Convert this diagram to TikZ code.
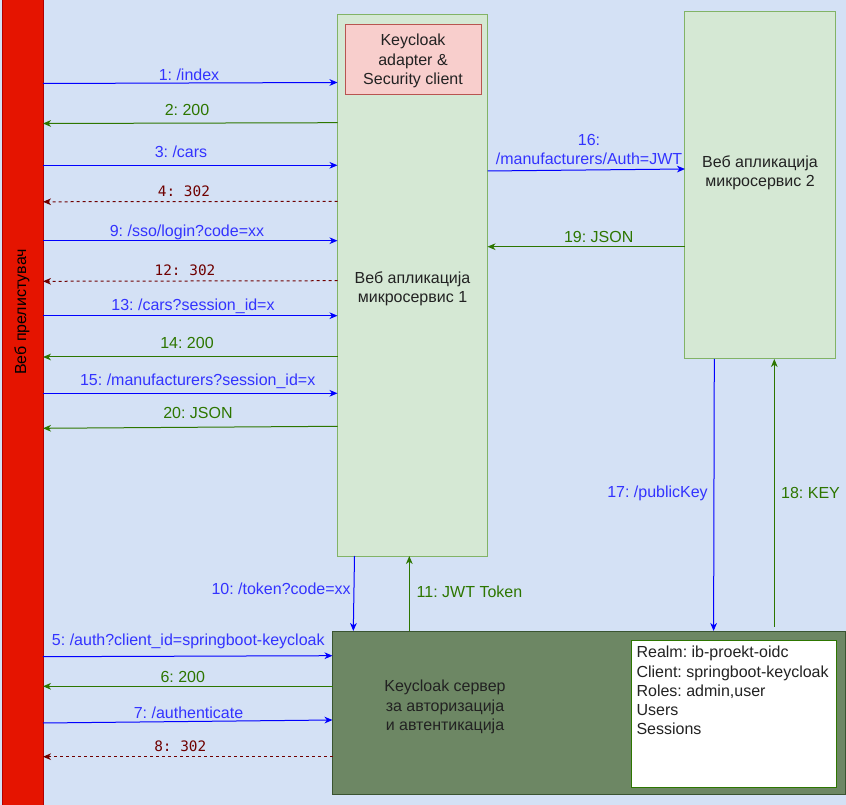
\documentclass[tikz,border=0pt]{standalone}
\usepackage{fontspec}
\setmainfont{Liberation Sans}
\newfontfamily\monofont{DejaVu Sans Mono}
\usetikzlibrary{arrows.meta}
\frenchspacing
\definecolor{bgblue}{HTML}{D4E1F5}
\definecolor{barred}{HTML}{E51400}
\definecolor{barstroke}{HTML}{B20000}
\definecolor{msfill}{HTML}{D5E8D4}
\definecolor{msstroke}{HTML}{82B366}
\definecolor{pinkfill}{HTML}{F8CECC}
\definecolor{pinkstroke}{HTML}{B85450}
\definecolor{kcfill}{HTML}{6D8764}
\definecolor{kcstroke}{HTML}{3A5431}
\definecolor{okgreen}{HTML}{2D7600}
\definecolor{reqblue}{HTML}{0000FF}
\definecolor{reqtext}{HTML}{3333FF}
\definecolor{redir}{HTML}{6F0000}
\definecolor{txt}{HTML}{222222}
\tikzset{
  box/.style={draw, line width=0.75pt, inner sep=0pt, outer sep=0pt},
  tip/.style={-{Stealth[length=6pt,width=5pt,inset=1.8pt]}},
  req/.style={draw=reqblue, line width=0.75pt, tip},
  okarr/.style={draw=okgreen, line width=0.75pt, tip},
  redirarr/.style={draw=redir, line width=0.75pt, dash pattern=on 2.25pt off 2.25pt, tip},
  reqlbl/.style={text=reqtext, inner sep=0pt},
  oklbl/.style={text=okgreen, inner sep=0pt},
  redirlbl/.style={text=redir, inner sep=0pt, font=\monofont\fontsize{10.8}{13}\selectfont},
  boxtext/.style={text=txt, align=center, inner sep=0pt},
}
\begin{document}
\frenchspacing
\begin{tikzpicture}[x=0.75pt,y=-0.75pt,font=\fontsize{12}{14.4}\selectfont]
\useasboundingbox (0,0) rectangle (846,805);
\fill[bgblue] (0,0) rectangle (846,805);

% boxes
\node[box, fill=barred, draw=barstroke, minimum width=30.75pt, minimum height=604.5pt] (bar) at (22.5,402.5) {};
\node[rotate=90, text=black, inner sep=0pt] (barlbl) at (22,312) {Веб прелистувач};

\node[box, fill=msfill, draw=msstroke, minimum width=112.5pt, minimum height=405.75pt] (ms1) at (412.5,285.5) {};
\node[box, fill=pinkfill, draw=pinkstroke, minimum width=102pt, minimum height=52.5pt] (pink) at (413,60) {};
\node[boxtext] (pinklbl) at (413,61) {Keycloak\\adapter \&\\Security client};
\node[boxtext] (ms1lbl) at (412.5,289) {Веб апликација\\микросервис 1};

\node[box, fill=msfill, draw=msstroke, minimum width=112.9pt, minimum height=260.25pt] (ms2) at (760.25,185.5) {};
\node[boxtext] (ms2lbl) at (760,172.5) {Веб апликација\\микросервис 2};

\node[box, fill=kcfill, draw=kcstroke, minimum width=384.75pt, minimum height=122.25pt] (kc) at (589,712.5) {};
\node[boxtext] (kclbl) at (445,707) {Keycloak сервер\\за авторизација\\и автентикација};
\node[box, fill=white, draw=okgreen, minimum width=154.1pt, minimum height=110.6pt] (info) at (734.25,714.25) {};
\node[text=txt, align=left, anchor=north west, inner sep=0pt] (infolbl) at (636.3,646) {Realm: ib-proekt-oidc\\Client: springboot-keycloak\\Roles: admin,user\\Users\\Sessions};

% browser <-> microservice 1
\draw[req] (bar.east |- 0,83.5) -- (ms1.west |- 0,82.5);
\node[reqlbl] (l1) at (189,75) {1: /index};
\draw[okarr] (ms1.west |- 0,122.7) -- (bar.east |- 0,123.5);
\node[oklbl] (l2) at (187,110) {2: 200};
\draw[req] (bar.east |- 0,165.3) -- (ms1.west |- 0,165.3);
\node[reqlbl] (l3) at (181,151.5) {3: /cars};
\draw[redirarr] (ms1.west |- 0,201.3) -- (bar.east |- 0,201.8);
\node[redirlbl] (l4) at (184,191.5) {4: 302};
\draw[req] (bar.east |- 0,240.7) -- (ms1.west |- 0,240.7);
\node[reqlbl] (l9) at (187,232) {9: /sso/login?code=xx};
\draw[redirarr] (ms1.west |- 0,280.7) -- (bar.east |- 0,281.3);
\node[redirlbl] (l12) at (185,270.5) {12: 302};
\draw[req] (bar.east |- 0,315.7) -- (ms1.west |- 0,315.7);
\node[reqlbl] (l13) at (193,306) {13: /cars?session\_id=x};
\draw[okarr] (ms1.west |- 0,357) -- (bar.east |- 0,357);
\node[oklbl] (l14) at (187,342.7) {14: 200};
\draw[req] (bar.east |- 0,393.3) -- (ms1.west |- 0,393.3);
\node[reqlbl] (l15) at (197.7,381) {15: /manufacturers?session\_id=x};
\draw[okarr] (ms1.west |- 0,426.3) -- (bar.east |- 0,428.3);
\node[oklbl] (l20) at (198,412.7) {20: JSON};

% microservice 1 <-> microservice 2
\draw[req] (ms1.east |- 0,171) -- (ms2.west |- 0,169);
\node[reqlbl, align=center] (l16) at (589,149.5) {16:\\/manufacturers/Auth=JWT};
\draw[okarr] (ms2.west |- 0,246.7) -- (ms1.east |- 0,246.7);
\node[oklbl] (l19) at (598.7,236.5) {19: JSON};

% microservice 1 <-> keycloak
\draw[req] (ms1.south -| 354.5,0) -- (kc.north -| 353.3,0);
\node[reqlbl, anchor=east] (l10) at (351,589) {10: /token?code=xx};
\draw[okarr] (kc.north -| 409.3,0) -- (ms1.south -| 409.3,0);
\node[oklbl] (l11) at (469.5,592) {11: JWT Token};

% microservice 2 <-> keycloak
\draw[req] (ms2.south -| 714.3,0) -- (kc.north -| 713.6,0);
\node[reqlbl] (l17) at (657.5,493.3) {17: /publicKey};
\coordinate (k18) at (774.3,626.5);
\draw[okarr] (k18) -- (ms2.south -| k18);
\node[oklbl] (l18) at (810.5,493.3) {18: KEY};

% browser <-> keycloak
\draw[req] (bar.east |- 0,656.7) -- (kc.west |- 0,655.7);
\node[reqlbl] (l5) at (188.3,641) {5: /auth?client\_id=springboot-keycloak};
\draw[okarr] (kc.west |- 0,686.3) -- (bar.east |- 0,686.3);
\node[oklbl] (l6) at (182.8,677) {6: 200};
\draw[req] (bar.east |- 0,723) -- (kc.west |- 0,720);
\node[reqlbl] (l7) at (188.5,712.5) {7: /authenticate};
\draw[redirarr] (kc.west |- 0,756.7) -- (bar.east |- 0,756.7);
\node[redirlbl] (l8) at (180.3,746.5) {8: 302};
\end{tikzpicture}
\end{document}
